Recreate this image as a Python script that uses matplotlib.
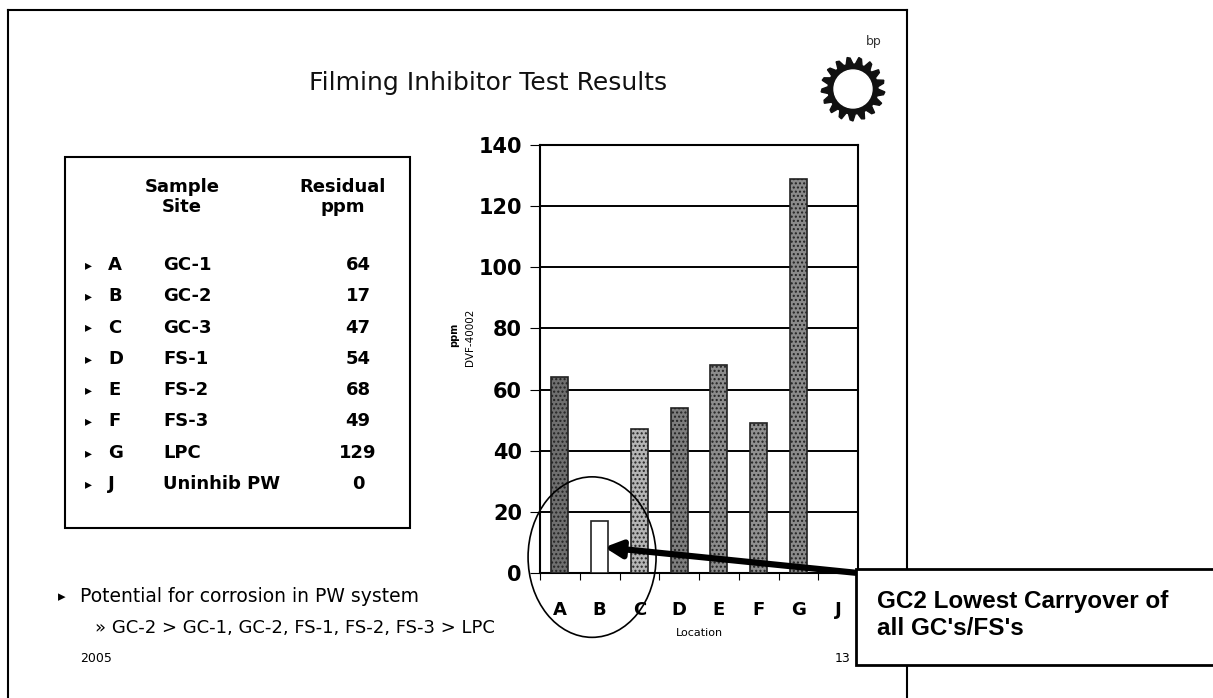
import numpy as np
import matplotlib
matplotlib.use('Agg')
import matplotlib.pyplot as plt
from matplotlib.patches import Ellipse, Rectangle, Polygon, Circle

# data
locations = ['A', 'B', 'C', 'D', 'E', 'F', 'G', 'J']
sites = ['GC-1', 'GC-2', 'GC-3', 'FS-1', 'FS-2', 'FS-3', 'LPC', 'Uninhib PW']
residual_ppm = [64, 17, 47, 54, 68, 49, 129, 0]
yticks = [0, 20, 40, 60, 80, 100, 120, 140]

W, H = 1213, 698
fig = plt.figure(figsize=(W / 100, H / 100), dpi=100)

# background layer in pixel coordinates
bg = fig.add_axes([0, 0, 1, 1])
bg.set_xlim(0, W)
bg.set_ylim(H, 0)
bg.axis('off')

# slide frame
bg.plot([8, 907], [10, 10], color='black', lw=1.5)
bg.plot([8, 8], [10, H], color='black', lw=1.5)
bg.plot([907, 907], [10, H], color='black', lw=1.5)

bg.text(488, 83, 'Filming Inhibitor Test Results', fontsize=18,
        ha='center', va='center', color='#111111')

# bp logo
bg.text(874, 42, 'bp', fontsize=9, ha='center', va='center', color='#333333')
n_teeth = 17
ang = np.linspace(0, 2 * np.pi, 4 * n_teeth, endpoint=False) + np.pi / 2
rad = np.tile([32, 31, 25, 25], n_teeth)
gear = np.column_stack([853 + rad * np.cos(ang), 89 + rad * np.sin(ang)])
bg.add_patch(Polygon(gear, closed=True, color='#111111'))
bg.add_patch(Circle((853, 89), 19, color='white'))

# table
bg.add_patch(Rectangle((65, 157), 345, 371, fill=False, ec='black', lw=1.5))
bg.text(182, 197, 'Sample\nSite', fontsize=13, weight='bold', ha='center',
        va='center', linespacing=1.1)
bg.text(343, 197, 'Residual\nppm', fontsize=13, weight='bold', ha='center',
        va='center', linespacing=1.1)
for i, (loc, site, val) in enumerate(zip(locations, sites, residual_ppm)):
    y = 265 + i * 31.3
    bg.text(88, y, '\u25B8', fontsize=10, ha='center', va='center')
    bg.text(108, y, loc, fontsize=13, weight='bold', va='center')
    bg.text(163, y, site, fontsize=13, weight='bold', va='center')
    bg.text(358, y, str(val), fontsize=13, weight='bold', ha='center', va='center')

# bullets below table
bg.text(62, 597, '\u25B8', fontsize=11, ha='center', va='center')
bg.text(80, 597, 'Potential for corrosion in PW system', fontsize=13.5, va='center')
bg.text(95, 628, '\u00BB GC-2 > GC-1, GC-2, FS-1, FS-2, FS-3 > LPC', fontsize=13,
        va='center')
bg.text(80, 659, '2005', fontsize=9, va='center')
bg.text(843, 659, '13', fontsize=9, ha='center', va='center')

# bar chart
ax = fig.add_axes([540 / W, (H - 573) / H, 318 / W, (573 - 145) / H])
x = np.arange(len(locations))
colors = ['#6f6f6f', 'white', '#b5b5b5', '#7d7d7d', '#8c8c8c', '#909090', '#8a8a8a', '#8a8a8a']
bars = ax.bar(x, residual_ppm, width=0.43, color=colors, edgecolor='#222222',
              hatch='....', linewidth=1.2, zorder=3)
bars[1].set_hatch(None)
ax.set_xlim(-0.5, len(locations) - 0.5)
ax.set_ylim(0, 140)
ax.set_yticks(yticks)
ax.yaxis.grid(True, color='black', lw=1.4)
ax.set_axisbelow(True)
ax.set_xticks(np.arange(len(locations) + 1) - 0.5)
ax.set_xticklabels([])
ax.tick_params(axis='x', length=5, direction='out')
for xi, lab in zip(x, locations):
    ax.text(xi, -12, lab, fontsize=13, weight='bold', ha='center', va='center')
ax.text(3.5, -19.5, 'Location', fontsize=8, ha='center', va='center')
ax.tick_params(axis='y', labelsize=15, length=7, pad=6)
for lbl in ax.get_yticklabels():
    lbl.set_fontweight('bold')
for s in ax.spines.values():
    s.set_linewidth(1.5)
ax.text(-2.26, 77, 'DVF-40002', rotation=90, fontsize=7.5, ha='center', va='center')
ax.text(-2.66, 78, 'ppm', rotation=90, fontsize=7, weight='bold', ha='center', va='center')

# circle and arrow highlighting GC-2
ax.add_patch(Ellipse((0.81, 5.2), 3.22, 52.5, fill=False, ec='black', lw=1.2,
                     clip_on=False, zorder=5))
ax.annotate('', xy=(1.05, 8.5), xytext=(7.5, 0), annotation_clip=False,
            arrowprops=dict(arrowstyle='-|>,head_width=0.5,head_length=1.0',
                            color='black', lw=4.5), zorder=6)

# callout box on top
top = fig.add_axes([0, 0, 1, 1], zorder=10)
top.set_xlim(0, W)
top.set_ylim(H, 0)
top.axis('off')
top.add_patch(Rectangle((856, 569), 380, 96, fc='white', ec='black', lw=2,
                        clip_on=False))
top.text(877, 615, "GC2 Lowest Carryover of\nall GC's/FS's", fontsize=17.5,
         family='Liberation Sans', weight='bold', va='center', linespacing=1.25)

fig.savefig('out.png', dpi=100)
